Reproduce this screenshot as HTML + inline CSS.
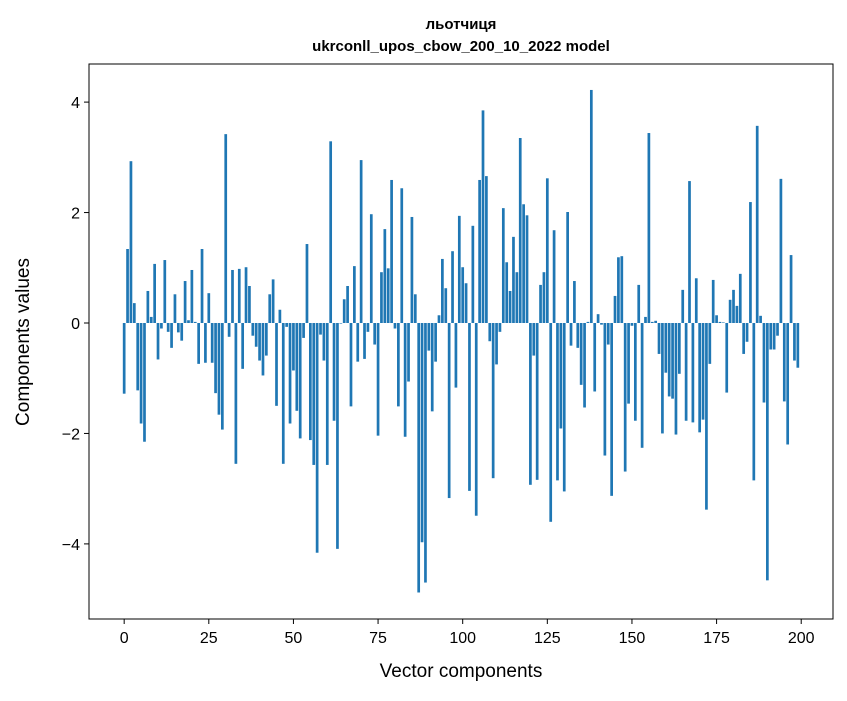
<!DOCTYPE html>
<html><head><meta charset="utf-8"><style>
body{margin:0;background:#fff;font-family:"Liberation Sans","DejaVu Sans",sans-serif}
svg text{font-family:"Liberation Sans","DejaVu Sans",sans-serif}
</style></head><body>
<svg id="chart" width="847" height="696" viewBox="0 0 847 696" xmlns="http://www.w3.org/2000/svg">
<rect width="847" height="696" fill="#fff"/>
<text x="461" y="29" text-anchor="middle" font-size="15" font-weight="bold">льотчиця</text>
<text x="461" y="51" text-anchor="middle" font-size="15" font-weight="bold">ukrconll_upos_cbow_200_10_2022 model</text>
<g id="bars"></g>
<g id="xticks"></g>
<g id="yticks"></g>
<rect x="89" y="64" width="744" height="555" fill="none" stroke="#000" stroke-width="1"/>
<text x="461" y="677" text-anchor="middle" font-size="19">Vector components</text>
<text transform="translate(29,342) rotate(-90)" text-anchor="middle" font-size="19">Components values</text>
</svg>
<script>
const values = [
-1.28,1.34,2.93,0.36,-1.22,-1.82,-2.15,0.58,0.11,1.07,
-0.66,-0.10,1.14,-0.16,-0.45,0.52,-0.17,-0.32,0.76,0.05,
0.96,0.02,-0.74,1.34,-0.72,0.54,-0.72,-1.27,-1.66,-1.93,
3.42,-0.25,0.96,-2.55,0.98,-0.83,1.01,0.67,-0.23,-0.43,
-0.68,-0.95,-0.59,0.52,0.79,-1.50,0.24,-2.55,-0.07,-1.82,
-0.86,-1.59,-2.09,-0.27,1.43,-2.12,-2.57,-4.16,-0.21,-0.68,
-2.57,3.29,-1.77,-4.09,-0.01,0.43,0.67,-1.51,1.03,-0.70,
2.95,-0.65,-0.16,1.97,-0.39,-2.04,0.92,1.70,0.99,2.59,
-0.10,-1.51,2.44,-2.06,-1.06,1.92,0.52,-4.88,-3.97,-4.70,
-0.50,-1.60,-0.70,0.14,1.16,0.63,-3.17,1.30,-1.17,1.94,
1.01,0.72,-3.04,1.76,-3.49,2.59,3.85,2.66,-0.33,-2.81,
-0.75,-0.16,2.08,1.10,0.58,1.56,0.92,3.35,2.15,1.95,
-2.93,-0.59,-2.84,0.69,0.92,2.62,-3.60,1.68,-2.85,-1.91,
-3.05,2.01,-0.41,0.76,-0.45,-1.12,-1.53,0.02,4.22,-1.24,
0.16,-0.03,-2.40,-0.39,-3.13,0.49,1.19,1.21,-2.69,-1.46,
-0.05,-1.77,0.69,-2.26,0.11,3.44,0.02,0.04,-0.56,-2.00,
-0.90,-1.33,-1.37,-2.02,-0.92,0.60,-1.77,2.57,-1.80,0.81,
-1.98,-1.75,-3.38,-0.74,0.78,0.14,0.02,0.01,-1.26,0.42,
0.60,0.31,0.89,-0.56,-0.34,2.19,-2.85,3.57,0.13,-1.44,
-4.66,-0.48,-0.48,-0.23,2.61,-1.42,-2.20,1.23,-0.68,-0.81];
const xTickVals = [0,25,50,75,100,125,150,175,200];
const yTickVals = [-4,-2,0,2,4];
const yTickLabels = ["\u22124","\u22122","0","2","4"];

const NS = "http://www.w3.org/2000/svg";
const X0 = 89, X1 = 833, Y0 = 64, Y1 = 619;
const xMin = -10.39, xMax = 209.39, yMin = -5.36, yMax = 4.69;
function sx(v){ return X0 + (v - xMin) / (xMax - xMin) * (X1 - X0); }
function sy(v){ return Y1 - (v - yMin) / (yMax - yMin) * (Y1 - Y0); }

const bars = document.getElementById('bars');
values.forEach((v, i) => {
  const r = document.createElementNS(NS, 'rect');
  const xl = sx(i - 0.4), xr = sx(i + 0.4);
  const y0 = sy(0), y1 = sy(v);
  r.setAttribute('x', xl);
  r.setAttribute('width', xr - xl);
  r.setAttribute('y', Math.min(y0, y1));
  r.setAttribute('height', Math.abs(y1 - y0));
  r.setAttribute('fill', '#1f77b4');
  
  
  bars.appendChild(r);
});

const xt = document.getElementById('xticks');
xTickVals.forEach(t => {
  const x = sx(t);
  const l = document.createElementNS(NS, 'line');
  l.setAttribute('x1', x); l.setAttribute('x2', x);
  l.setAttribute('y1', Y1); l.setAttribute('y2', Y1 + 5);
  l.setAttribute('stroke', '#000');
  
  
  xt.appendChild(l);
  const tx = document.createElementNS(NS, 'text');
  tx.setAttribute('x', x); tx.setAttribute('y', Y1 + 24);
  tx.setAttribute('text-anchor', 'middle');
  tx.setAttribute('font-size', '16');
  tx.textContent = String(t);
  
  
  xt.appendChild(tx);
});

const yt = document.getElementById('yticks');
yTickVals.forEach((t, i) => {
  const y = sy(t);
  const l = document.createElementNS(NS, 'line');
  l.setAttribute('x1', X0 - 5); l.setAttribute('x2', X0);
  l.setAttribute('y1', y); l.setAttribute('y2', y);
  l.setAttribute('stroke', '#000');
  
  
  yt.appendChild(l);
  const tx = document.createElementNS(NS, 'text');
  tx.setAttribute('x', X0 - 9); tx.setAttribute('y', y + 6);
  tx.setAttribute('text-anchor', 'end');
  tx.setAttribute('font-size', '16');
  tx.textContent = yTickLabels[i];
  
  
  yt.appendChild(tx);
});
</script>
</body></html>
